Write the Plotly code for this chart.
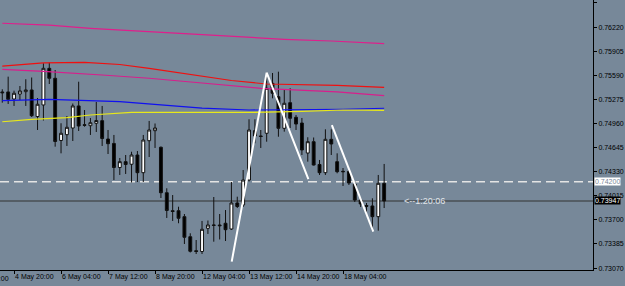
import plotly.graph_objects as go

# ---- candle data (H4 bars, index 0..65) ----
bar_index = list(range(66))
open_ = [0.75372, 0.75372, 0.75280, 0.75345, 0.75376, 0.75398, 0.75051, 0.75202, 0.75681, 0.75551,
         0.74738, 0.74814, 0.74901, 0.75189, 0.74944, 0.74931, 0.74963, 0.74997, 0.74757, 0.74699,
         0.74385, 0.74461, 0.74427, 0.74548, 0.74317, 0.74735, 0.74866, 0.74649, 0.74055, 0.73820,
         0.73820, 0.73742, 0.73480, 0.73297, 0.73287, 0.73590, 0.73633, 0.73633, 0.73656, 0.73581,
         0.73921, 0.73895, 0.74221, 0.74866, 0.74797, 0.74832, 0.75485, 0.75310, 0.74897, 0.75232,
         0.75041, 0.74966, 0.74574, 0.74722, 0.74424, 0.74317, 0.74753, 0.74461, 0.74335, 0.74333,
         0.74169, 0.73960, 0.73888, 0.73882, 0.73742, 0.74178]
close = [0.75362, 0.75276, 0.75355, 0.75385, 0.75398, 0.75062, 0.75211, 0.75681, 0.75551, 0.74725,
         0.74832, 0.74910, 0.75189, 0.74927, 0.74936, 0.74970, 0.74999, 0.74764, 0.74696, 0.74385,
         0.74461, 0.74424, 0.74548, 0.74317, 0.74744, 0.74875, 0.74901, 0.74055, 0.73823, 0.73810,
         0.73721, 0.73473, 0.73290, 0.73287, 0.73577, 0.73633, 0.73629, 0.73624, 0.73572, 0.73921,
         0.73875, 0.74221, 0.74875, 0.74797, 0.74790, 0.75420, 0.75355, 0.74897, 0.75224, 0.75028,
         0.74953, 0.74614, 0.74722, 0.74417, 0.74317, 0.74753, 0.74692, 0.74330, 0.74330, 0.74182,
         0.73960, 0.73908, 0.73878, 0.73742, 0.74178, 0.73947]
high = [0.75407, 0.75572, 0.75389, 0.75450, 0.75538, 0.75561, 0.75293, 0.75747, 0.75757, 0.75659,
        0.74963, 0.75058, 0.75221, 0.75506, 0.75136, 0.75032, 0.75241, 0.75189, 0.74875, 0.74810,
        0.74509, 0.74548, 0.74591, 0.74600, 0.74810, 0.74993, 0.74960, 0.74659, 0.74113, 0.74025,
        0.73872, 0.73777, 0.73525, 0.73437, 0.73686, 0.73692, 0.73999, 0.73777, 0.73829, 0.74195,
        0.74003, 0.74352, 0.75015, 0.75015, 0.74875, 0.75624, 0.75620, 0.75637, 0.75398, 0.75420,
        0.75071, 0.75032, 0.74780, 0.74777, 0.74483, 0.74884, 0.74884, 0.74570, 0.74378, 0.74352,
        0.74208, 0.73986, 0.73921, 0.73982, 0.74287, 0.74431]
low = [0.75232, 0.75215, 0.75189, 0.75267, 0.75189, 0.75045, 0.74875, 0.74999, 0.75476, 0.74657,
       0.74570, 0.74666, 0.74731, 0.74862, 0.74918, 0.74810, 0.74849, 0.74666, 0.74561, 0.74221,
       0.74287, 0.74300, 0.74189, 0.74195, 0.74195, 0.74522, 0.74640, 0.73986, 0.73725, 0.73686,
       0.73656, 0.73385, 0.73274, 0.73254, 0.73254, 0.73516, 0.73415, 0.73444, 0.73424, 0.73568,
       0.73855, 0.73869, 0.74202, 0.74701, 0.74640, 0.74722, 0.75289, 0.74787, 0.74853, 0.74901,
       0.74875, 0.74548, 0.74461, 0.74411, 0.74287, 0.74287, 0.74548, 0.74309, 0.74143, 0.74156,
       0.73934, 0.73869, 0.73764, 0.73559, 0.73559, 0.73855]

# ---- moving averages (read at selected bars) ----
ma_pink_top_bars = [0, 8, 15, 23, 30, 39, 48, 56, 65]
ma_pink_top = [0.76270, 0.76245, 0.76204, 0.76169, 0.76138, 0.76090, 0.76060, 0.76038, 0.76003]
ma_red_bars = [0, 7, 14, 20, 25, 34, 39, 45, 51, 57, 65]
ma_red = [0.75711, 0.75751, 0.75760, 0.75731, 0.75681, 0.75574, 0.75522, 0.75476, 0.75466, 0.75457, 0.75433]
ma_pink_bars = [0, 7, 17, 25, 34, 44, 57, 65]
ma_pink = [0.75666, 0.75642, 0.75594, 0.75551, 0.75489, 0.75420, 0.75372, 0.75323]
ma_blue_bars = [0, 8, 20, 27, 34, 42, 51, 58, 65]
ma_blue = [0.75258, 0.75276, 0.75245, 0.75202, 0.75162, 0.75136, 0.75136, 0.75145, 0.75159]
ma_yellow_bars = [0, 5, 11, 15, 22, 33, 42, 51, 58, 65]
ma_yellow = [0.74983, 0.75015, 0.75036, 0.75071, 0.75106, 0.75106, 0.75104, 0.75117, 0.75136, 0.75132]

# ---- drawn trend lines ----
zz1_bars = [39.05, 45.0, 52.1]
zz1_price = [0.73154, 0.75624, 0.74234]
zz2_bars = [56.1, 63.15]
zz2_price = [0.74940, 0.73546]

# ---- axes / levels ----
time_tick_bars = [2, 10, 18, 26, 34, 42, 50, 58]
time_tick_labels = ["4 May 20:00", "6 May 04:00", "7 May 12:00", "8 May 20:00",
                    "12 May 04:00", "13 May 12:00", "14 May 20:00", "18 May 04:00"]
prev_tick_bar = -6
prev_tick_label = "1 May 12:00"
price_ticks = [0.76535, 0.76220, 0.75905, 0.75590, 0.75275, 0.74960,
               0.74645, 0.74330, 0.74015, 0.73700, 0.73385, 0.73070]
level_price = 0.74200
bid_price = 0.73947
timer_text = "<--1:20:06"

X_RANGE = [-0.39, 100.55]
Y_RANGE = [0.73045, 0.76574]
BG = "#778899"
FONT = "Liberation Sans, Arial, sans-serif"

fig = go.Figure()

def ma(xs, ys, color):
    fig.add_trace(go.Scatter(x=xs, y=ys, mode="lines", line=dict(color=color, width=1.2),
                             hoverinfo="skip", showlegend=False))

ma(ma_pink_top_bars, ma_pink_top, "#e01e8c")
ma(ma_red_bars, ma_red, "#f01010")
ma(ma_pink_bars, ma_pink, "#d81e8c")
ma(ma_blue_bars, ma_blue, "#1010f0")
ma(ma_yellow_bars, ma_yellow, "#e8e81a")

fig.add_trace(go.Candlestick(
    x=bar_index, open=open_, high=high, low=low, close=close,
    increasing=dict(line=dict(color="#111111", width=1), fillcolor="white"),
    decreasing=dict(line=dict(color="#111111", width=1), fillcolor="black"),
    whiskerwidth=0, showlegend=False, hoverinfo="skip"))

for xs, ys in [(zz1_bars, zz1_price), (zz2_bars, zz2_price)]:
    fig.add_trace(go.Scatter(x=xs, y=ys, mode="lines", line=dict(color="white", width=2),
                             hoverinfo="skip", showlegend=False))

fig.add_shape(type="line", xref="paper", x0=0, x1=1, yref="y", y0=level_price, y1=level_price,
              line=dict(color="#e4e4e4", width=1.5, dash="9px,5px"), layer="below")
fig.add_shape(type="line", xref="paper", x0=0, x1=1, yref="y", y0=bid_price, y1=bid_price,
              line=dict(color="#333333", width=1.2), layer="below")

fig.add_annotation(xref="paper", x=1, xanchor="left", xshift=1, yref="y", y=level_price,
                   yanchor="middle", text=f"{level_price:.5f}", showarrow=False,
                   bgcolor="white", borderpad=0,
                   font=dict(family=FONT, size=7, color="#7a8898"))
fig.add_annotation(xref="paper", x=1, xanchor="left", xshift=1, yref="y", y=bid_price,
                   yanchor="middle", text=f"{bid_price:.5f}", showarrow=False,
                   bgcolor="black", borderpad=0,
                   font=dict(family=FONT, size=7, color="white"))
fig.add_annotation(x=bar_index[-1] + 3, xanchor="left", y=bid_price, yanchor="middle",
                   text=timer_text, showarrow=False,
                   font=dict(family=FONT, size=9, color="#e2e6ea"))
prev_paper_x = (prev_tick_bar - X_RANGE[0]) / (X_RANGE[1] - X_RANGE[0])
fig.add_annotation(xref="paper", x=prev_paper_x, xanchor="left", xshift=1, yref="paper", y=0,
                   yanchor="top", yshift=-3, text=prev_tick_label, showarrow=False,
                   font=dict(family=FONT, size=7, color="black"))

fig.update_layout(
    width=625, height=286,
    margin=dict(l=0, r=32, t=0, b=16, autoexpand=False),
    paper_bgcolor=BG, plot_bgcolor=BG,
    font=dict(family=FONT, size=7, color="black"),
    showlegend=False,
    xaxis=dict(range=X_RANGE, rangeslider=dict(visible=False),
               tickvals=time_tick_bars, ticktext=time_tick_labels, tickangle=0,
               ticks="outside", ticklen=3, tickcolor="black",
               ticklabelposition="outside right", automargin=False,
               showline=True, linecolor="black", linewidth=1,
               showgrid=False, zeroline=False, tickfont=dict(size=7)),
    yaxis=dict(range=Y_RANGE, side="right", automargin=False,
               tickvals=price_ticks, ticktext=[f"{p:.5f}" for p in price_ticks],
               ticks="outside", ticklen=3, tickcolor="black",
               showline=True, linecolor="black", linewidth=1,
               showgrid=False, zeroline=False, tickfont=dict(size=7)),
)

fig.write_html("out.html")
